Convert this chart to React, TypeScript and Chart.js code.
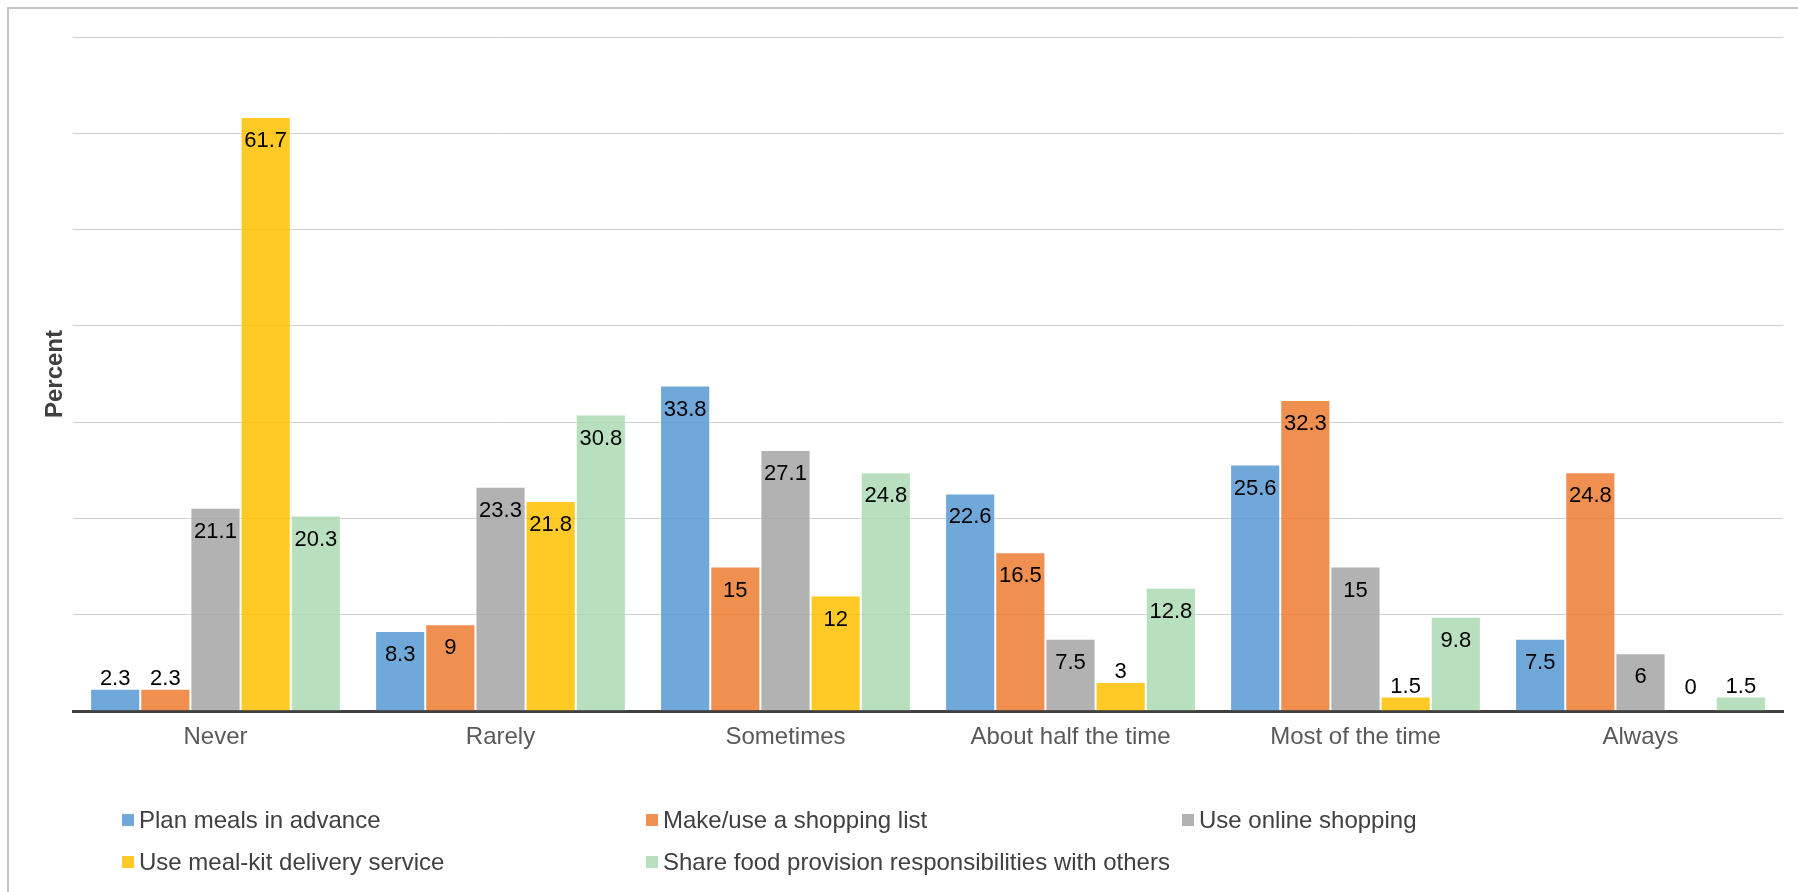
import React, { useEffect, useRef } from "react";
import { Chart, registerables } from "chart.js";

Chart.register(...registerables);

const categories = ["Never", "Rarely", "Sometimes", "About half the time", "Most of the time", "Always"];
const planMeals = [2.3, 8.3, 33.8, 22.6, 25.6, 7.5];
const shoppingList = [2.3, 9, 15, 16.5, 32.3, 24.8];
const onlineShopping = [21.1, 23.3, 27.1, 7.5, 15, 6];
const mealKit = [61.7, 21.8, 12, 3, 1.5, 0];
const shareFood = [20.3, 30.8, 24.8, 12.8, 9.8, 1.5];

const seriesNames = [
  "Plan meals in advance",
  "Make/use a shopping list",
  "Use online shopping",
  "Use meal-kit delivery service",
  "Share food provision responsibilities with others",
];
const seriesColors = [
  "rgba(91,155,213,0.87)",
  "rgba(237,125,49,0.85)",
  "rgba(165,165,165,0.85)",
  "rgba(255,192,0,0.85)",
  "rgba(168,216,176,0.82)",
];
const yTicks = [0, 10, 20, 30, 40, 50, 60, 70];

const FONT = "'Liberation Sans', Arial, sans-serif";

// value labels: inside the top of the bar, or just above short bars
const valueLabels = {
  id: "valueLabels",
  afterDatasetsDraw(chart: any) {
    const ctx = chart.ctx;
    const base = chart.scales.y.getPixelForValue(0);
    ctx.save();
    ctx.font = `22px ${FONT}`;
    ctx.fillStyle = "#000000";
    ctx.textAlign = "center";
    ctx.textBaseline = "middle";
    chart.data.datasets.forEach((ds: any, i: number) => {
      const meta = chart.getDatasetMeta(i);
      meta.data.forEach((bar: any, j: number) => {
        const v = ds.data[j];
        const top = bar.y;
        const h = base - top;
        const y = h >= 48 ? top + 24 : Math.min(top - 10, base - 23);
        ctx.fillText(String(v), bar.x, y);
      });
    });
    ctx.restore();
  },
};

// axis title and the two-row legend under the plot
const decorations = {
  id: "decorations",
  afterDraw(chart: any) {
    const ctx = chart.ctx;
    const area = chart.chartArea;
    ctx.save();
    ctx.font = `bold 24px ${FONT}`;
    ctx.fillStyle = "#404040";
    ctx.textAlign = "center";
    ctx.textBaseline = "middle";
    ctx.translate(47, (area.top + area.bottom) / 2);
    ctx.rotate(-Math.PI / 2);
    ctx.fillText("Percent", 0, 0);
    ctx.restore();

    const cols = [114, 638, 1174];
    const rows = [812, 854];
    ctx.save();
    ctx.font = `24px ${FONT}`;
    ctx.textAlign = "left";
    ctx.textBaseline = "middle";
    chart.data.datasets.forEach((ds: any, i: number) => {
      const x = cols[i % 3];
      const y = rows[Math.floor(i / 3)];
      ctx.fillStyle = ds.backgroundColor;
      ctx.fillRect(x, y - 6, 12, 12);
      ctx.fillStyle = "#404040";
      ctx.fillText(ds.label, x + 17, y + 1);
    });
    ctx.restore();
  },
};

export default function App() {
  const canvasRef = useRef<HTMLCanvasElement | null>(null);

  useEffect(() => {
    if (!canvasRef.current) return;
    const seriesData = [planMeals, shoppingList, onlineShopping, mealKit, shareFood];
    const chart = new Chart(canvasRef.current, {
      type: "bar",
      data: {
        labels: categories,
        datasets: seriesData.map((d, i) => ({
          label: seriesNames[i],
          data: d,
          backgroundColor: seriesColors[i],
          borderColor: "rgba(255,255,255,0.55)",
          borderWidth: 1,
          categoryPercentage: 0.88,
          barPercentage: 1,
        })),
      },
      options: {
        responsive: false,
        animation: false,
        layout: { padding: { left: 65, right: 7, top: 29, bottom: 113 } },
        plugins: {
          legend: { display: false },
          tooltip: { enabled: false },
          title: { display: false },
        },
        scales: {
          x: {
            grid: { display: false, drawTicks: false },
            border: { display: true, color: "#404040", width: 3 },
            ticks: {
              color: "#595959",
              font: { family: FONT, size: 24 },
              padding: 12,
              maxRotation: 0,
              autoSkip: false,
            },
            afterFit: (s: any) => {
              s.height = 60;
            },
          },
          y: {
            min: yTicks[0],
            max: yTicks[yTicks.length - 1],
            afterBuildTicks: (s: any) => {
              s.ticks = yTicks.map((v) => ({ value: v }));
            },
            grid: { color: "#d0d0d0", lineWidth: 1, drawTicks: false },
            border: { display: false },
            ticks: { display: false },
            afterFit: (s: any) => {
              s.width = 0;
            },
          },
        },
      },
      plugins: [valueLabels, decorations],
    });
    return () => chart.destroy();
  }, []);

  return (
    <div style={{ position: "relative", width: 1782, height: 876 }}>
      <div
        style={{
          position: "fixed",
          top: 7,
          left: 7,
          width: "calc(100vw - 7px)",
          height: "calc(100vh - 7px)",
          borderTop: "2px solid #c4c4c4",
          borderLeft: "2px solid #c4c4c4",
          boxSizing: "border-box",
          pointerEvents: "none",
        }}
      />
      <canvas ref={canvasRef} width={1782} height={876} style={{ display: "block" }} />
    </div>
  );
}
